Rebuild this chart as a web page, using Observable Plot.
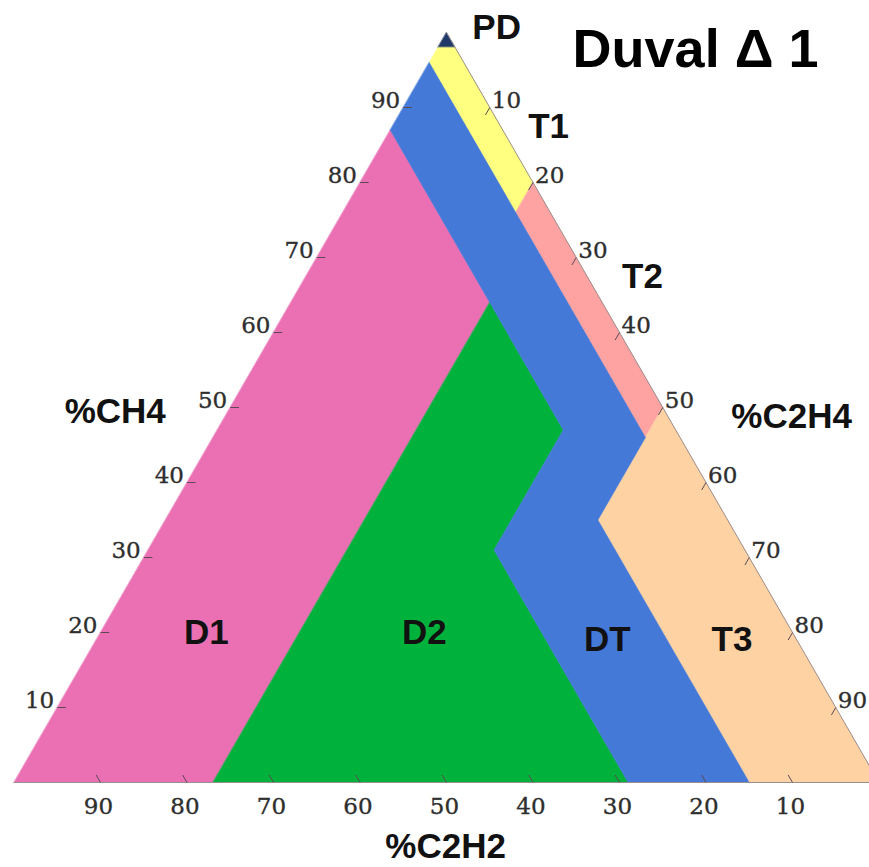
<!DOCTYPE html>
<html>
<head>
<meta charset="utf-8">
<script src="https://cdn.jsdelivr.net/npm/d3@7"></script>
<script src="https://cdn.jsdelivr.net/npm/@observablehq/plot@0.6"></script>
<style>
  html, body { margin: 0; padding: 0; background: #fff; }
  #chart { width: 869px; height: 867px; overflow: hidden; }
</style>
</head>
<body>
<div id="chart"></div>
<script>
// ---- Data (ternary vertices as [%CH4, %C2H4, %C2H2]) ----
const zoneNames = ["PD", "T1", "T2", "T3", "D1", "D2", "DT"];
const zonePD = [[100, 0, 0], [98, 2, 0], [98, 0, 2]];
const zoneT1 = [[98, 2, 0], [80, 20, 0], [76, 20, 4], [96, 0, 4], [98, 0, 2]];
const zoneT2 = [[80, 20, 0], [50, 50, 0], [46, 50, 4], [76, 20, 4]];
const zoneT3 = [[50, 50, 0], [0, 100, 0], [0, 85, 15], [35, 50, 15]];
const zoneD1 = [[87, 0, 13], [64, 23, 13], [0, 23, 77], [0, 0, 100]];
const zoneD2 = [[64, 23, 13], [47, 40, 13], [31, 40, 29], [0, 71, 29], [0, 23, 77]];
const zoneDT = [[96, 0, 4], [46, 50, 4], [35, 50, 15], [0, 85, 15], [0, 71, 29], [31, 40, 29], [47, 40, 13], [87, 0, 13]];
const zoneColors = ["#1f3a68", "#ffff80", "#ffa2a2", "#ffd2a4", "#ea70b3", "#00b23c", "#4579d8"];

const tickValues = [10, 20, 30, 40, 50, 60, 70, 80, 90];

// zone label anchor points (ternary %)
const zoneLabelText = ["D1", "D2", "DT", "T3", "T2", "T1", "PD"];
const zoneLabelCH4  = [18.5, 18.5, 17.6, 17.6, 65.9, 86.0, 99.2];
const zoneLabelC2H4 = [13.0, 38.2, 59.8, 74.2, 39.7, 18.8, 6.2];

// axis titles (ternary %)
const axisTitleText = ["%CH4", "%C2H4", "%C2H2"];
const axisTitleCH4  = [47.9, 47.3, -10.1];
const axisTitleC2H4 = [-12.25, 66.25, 54.95];

const titleText = "Duval \u0394 1";

// ---- ternary -> cartesian ----
const tx = (ch4, c2h4) => (c2h4 + ch4 / 2) / 100;
const ty = (ch4) => ch4 / 100;

const zoneLists = [zonePD, zoneT1, zoneT2, zoneT3, zoneD1, zoneD2, zoneDT];
const zoneRows = zoneLists.flatMap((pts, i) =>
  pts.map(([a, b]) => ({zone: zoneNames[i], color: zoneColors[i], x: tx(a, b), y: ty(a)}))
);

const edgeRows = [[0, 0, 100], [0, 100, 0], [100, 0, 0]].map(([a, b]) => ({x: tx(a, b), y: ty(a)}));

const bottomTicks = tickValues.map(c => ({v: c, x1: tx(0, 100 - c), y1: ty(0), x2: tx(1, 99 - c), y2: ty(1)}));
const leftTicks = tickValues.map(a => ({v: a, x1: tx(a, 0), y1: ty(a), x2: tx(a, 1), y2: ty(a)}));
const rightTicks = tickValues.map(b => ({v: b, x1: tx(100 - b, b), y1: ty(100 - b), x2: tx(99 - b, b), y2: ty(99 - b)}));
const allTicks = [...bottomTicks, ...leftTicks, ...rightTicks];

const zoneLabelRows = zoneLabelText.map((t, i) => ({t, x: tx(zoneLabelCH4[i], zoneLabelC2H4[i]), y: ty(zoneLabelCH4[i])}));
const axisTitleRows = axisTitleText.map((t, i) => ({t, x: tx(axisTitleCH4[i], axisTitleC2H4[i]), y: ty(axisTitleCH4[i])}));

const serif = "'DejaVu Serif', 'Liberation Serif', serif";
const sans = "'Liberation Sans', Arial, sans-serif";
const tickText = {fontFamily: serif, fontSize: 23, fill: "#2e2e2e", stroke: "#2e2e2e", strokeWidth: 0.35, lineAnchor: "bottom"};

const chart = Plot.plot({
  width: 869,
  height: 867,
  margin: 0,
  style: {background: "#fff"},
  x: {domain: [0, 1], range: [13.5, 878.5], axis: null},
  y: {domain: [0, 1], range: [782, 32], axis: null},
  color: {type: "identity"},
  marks: [
    Plot.line(zoneRows, {x: "x", y: "y", z: "zone", fill: "color", stroke: "color", strokeWidth: 0.6, curve: "linear-closed"}),
    Plot.line(edgeRows, {x: "x", y: "y", stroke: "#9a8f8f", strokeWidth: 1}),
    Plot.link(allTicks, {x1: "x1", y1: "y1", x2: "x2", y2: "y2", stroke: "#5a4a55", strokeWidth: 1}),
    Plot.text(bottomTicks, {x: "x1", y: "y1", text: d => String(d.v), dy: 31, dx: -2, textAnchor: "middle", ...tickText}),
    Plot.text(leftTicks, {x: "x1", y: "y1", text: d => String(d.v), dx: -3, textAnchor: "end", ...tickText}),
    Plot.text(rightTicks, {x: "x1", y: "y1", text: d => String(d.v), dx: 2, textAnchor: "start", ...tickText}),
    Plot.text(zoneLabelRows, {x: "x", y: "y", text: "t", textAnchor: "middle", lineAnchor: "bottom", fontFamily: sans, fontWeight: "bold", fontSize: 35, fill: "#111"}),
    Plot.text(axisTitleRows, {x: "x", y: "y", text: "t", textAnchor: "middle", lineAnchor: "bottom", fontFamily: sans, fontWeight: "bold", fontSize: 35, fill: "#111"}),
    Plot.text([titleText], {text: d => d, frameAnchor: "top-right", dx: -51, dy: 66, textAnchor: "end", lineAnchor: "bottom", fontFamily: sans, fontWeight: "bold", fontSize: 54, fill: "#000"})
  ]
});
document.getElementById("chart").appendChild(chart);
</script>
</body>
</html>
